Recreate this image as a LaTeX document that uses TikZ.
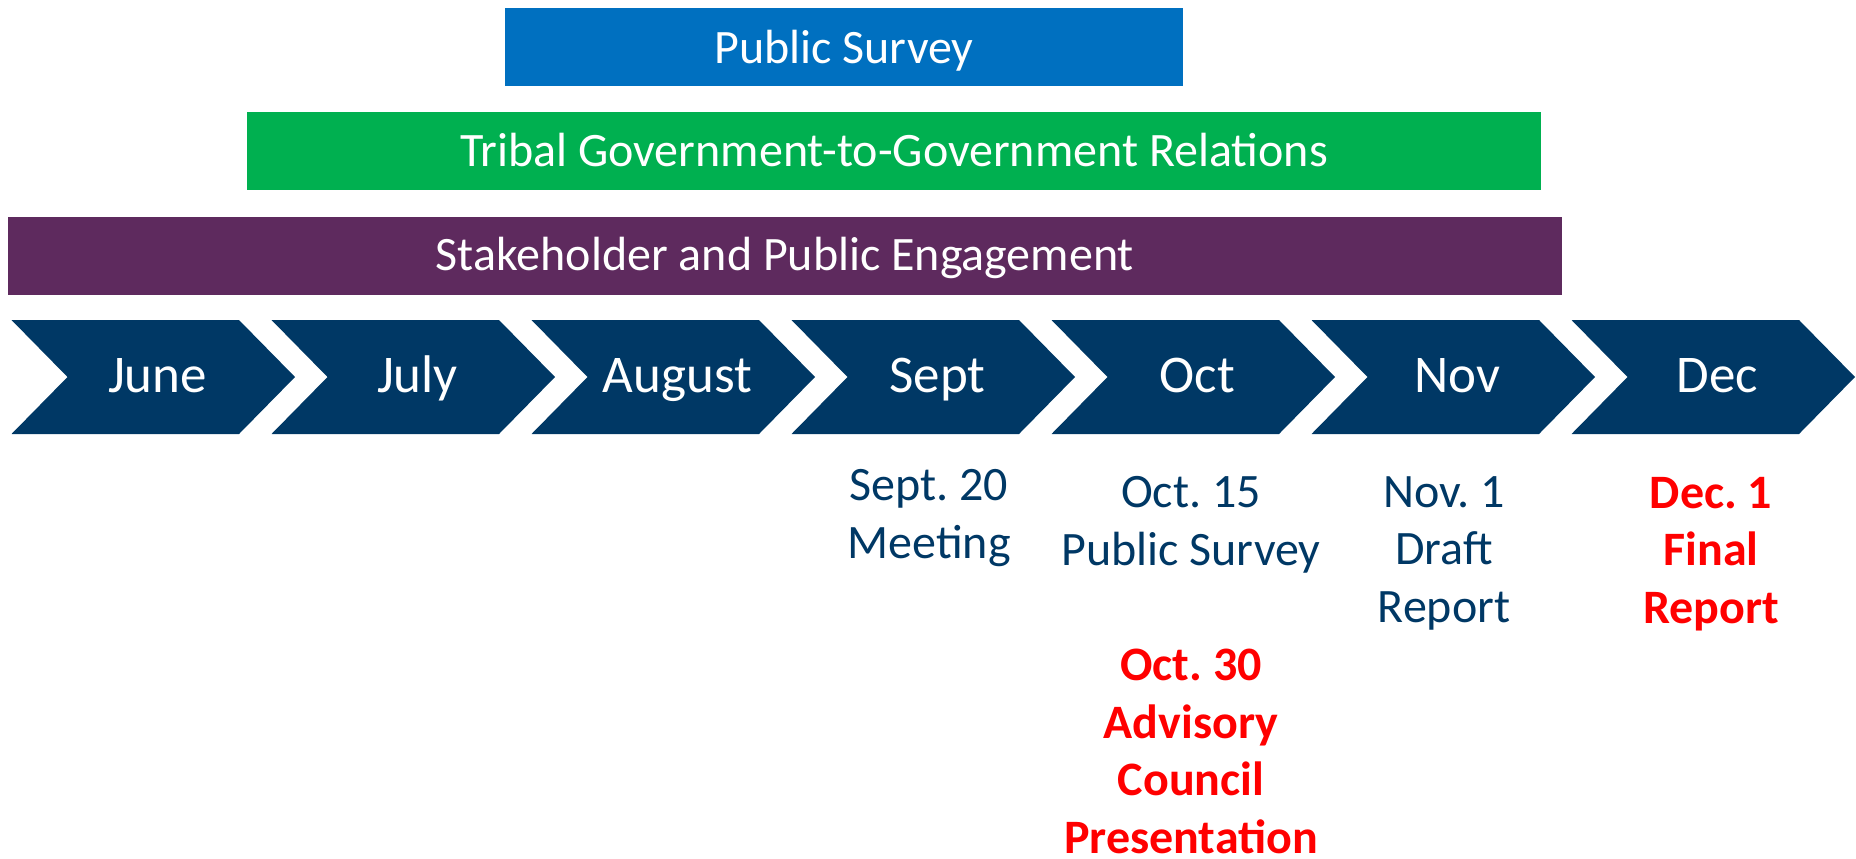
\documentclass[tikz,border=0pt]{standalone}
\usepackage{fontspec}
\setmainfont{Carlito}
\frenchspacing
\definecolor{surveyblue}{RGB}{0,112,192}
\definecolor{tribalgreen}{RGB}{0,176,80}
\definecolor{engagepurple}{RGB}{94,42,94}
\definecolor{monthnavy}{RGB}{0,56,101}
\definecolor{milered}{RGB}{255,0,0}
\tikzset{
  bartext/.style={text=white, font=\fontsize{24}{28.75}\selectfont, anchor=base, inner sep=0pt},
  monthtext/.style={text=white, font=\fontsize{26.5}{30}\selectfont, anchor=base, inner sep=0pt},
  milestone/.style={text=monthnavy, font=\fontsize{24}{28.75}\selectfont, align=center, anchor=base, inner sep=0pt},
  keymilestone/.style={milestone, text=milered, font=\fontsize{24}{28.75}\selectfont\bfseries}
}
\begin{document}
\begin{tikzpicture}[line join=miter,x=0.5pt,y=-0.5pt]
	\useasboundingbox (0,0) rectangle (1856,858);
	% Bars
	\fill[surveyblue] (505,8) rectangle (1183,86);
	\node[bartext] (survey) at (844,63) {Public Survey};
	\fill[tribalgreen] (247,112) rectangle (1541,190);
	\node[bartext] (tribal) at (894,166) {Tribal Government-to-Government Relations};
	\fill[engagepurple] (8,217) rectangle (1562,295);
	\node[bartext] (engage) at (785,270) {Stakeholder and Public Engagement};
	% Months
	\foreach \m [count=\i from 0] in {June,July,August,Sept,Oct,Nov,Dec}{
		\pgfmathsetmacro\xo{11.5+260*\i}
		\fill[monthnavy] (\xo,320) -- ++(227.5,0) -- ++(56,57) -- ++(-56,57)
			-- ++(-227.5,0) -- ++(56,-57) -- cycle;
		\node[monthtext] (m\i) at (\xo+146,392) {\m};
	}
	% Milestones (anchored on the last line)
	\node[milestone] (sept20) at (929,558) {Sept. 20\\Meeting};
	\node[milestone] (oct15) at (1191,565) {Oct. 15\\Public Survey};
	\node[milestone] (nov1) at (1444,622) {Nov. 1\\Draft\\Report};
	\node[keymilestone] (dec1) at (1711,623) {Dec. 1\\Final\\Report};
	\node[keymilestone] (oct30) at (1191,853) {Oct. 30\\Advisory\\Council\\Presentation};
\end{tikzpicture}
\end{document}
